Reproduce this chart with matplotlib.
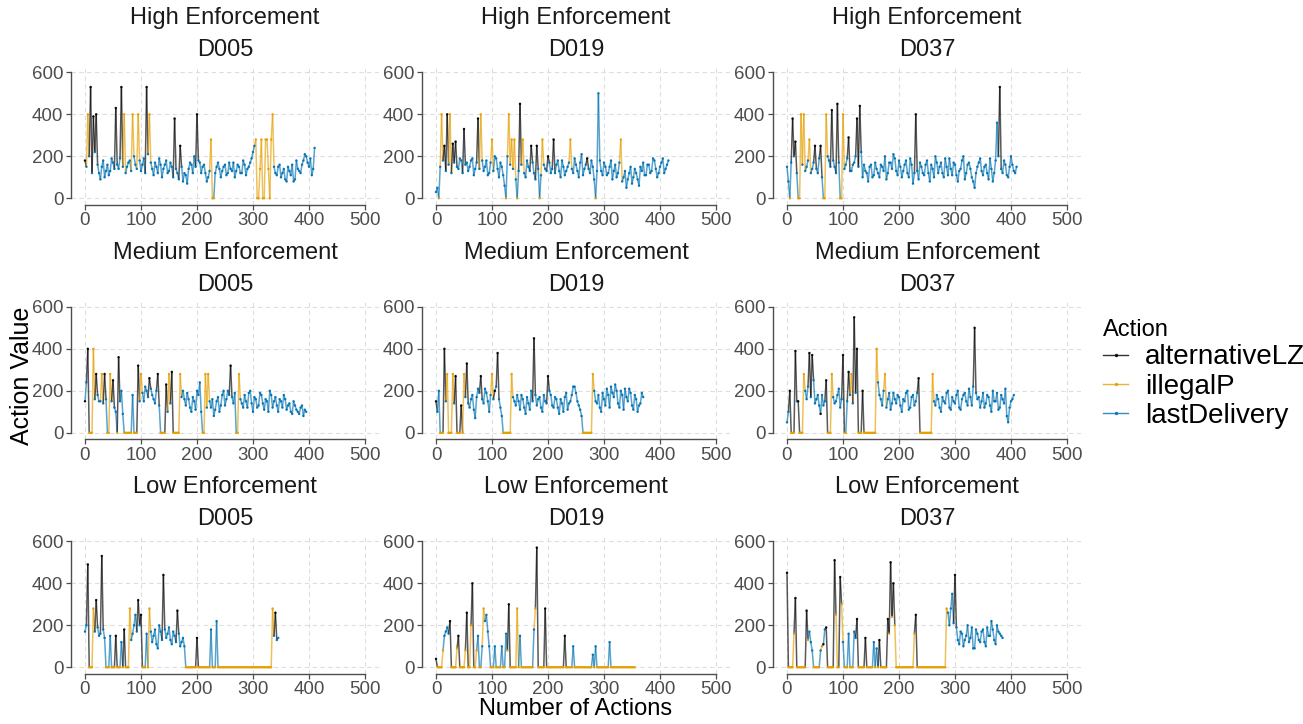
import numpy as np
import matplotlib
matplotlib.use("Agg")
import matplotlib.pyplot as plt
from matplotlib.collections import LineCollection
from matplotlib.lines import Line2D

plt.rcParams['font.family'] = ['Liberation Sans', 'DejaVu Sans']

# ---------------- data ----------------
levels = ["High Enforcement", "Medium Enforcement", "Low Enforcement"]
drivers = ["D005", "D019", "D037"]
action_names = {"B": "alternativeLZ", "O": "illegalP", "L": "lastDelivery"}
action_colors = {"B": "#000000", "O": "#E69F00", "L": "#0072B2"}
STEP = 5          # actions between the main sampled points
SCALE = 10        # values are stored in tens
# *_val / *_act : values at actions 0, 5, 10, ...
# *_mid / *_mact: values read between them (actions 2.5, 7.5, ...)

hd005_val = [18,40,53,39,40,12,15,10,16,13, 17,43,14,53,40,15,18,40,16,40,
             13,19,53,40,14,17,12,16,14,18, 13,15,38,12,25,8,11,14,16,20,
             40,17,15,12,10,28,0,15,14,13, 16,12,14,17,13,15,12,16,14,17,
             22,28,0,28,0,28,0,40,12,15, 10,14,8,13,16,9,14,12,18,20,
             15,11,24]
hd005_act = ("BOBBBLLLLL" "LBLBOLLOLO" "LLBOLLLLLL" "LLBLBLLLLL" "BLLLLOOLLL"
             "LLLLLLLLLL" "LOOOOOOOLL" "LLLLLLLLLL" "LLL")
hd005_mid = [15,20,12,22,16,9,18,13,11,19, 14,16,19,15,12,17,13,20,14,18,
             16,12,21,17,11,15,19,10,16,12, 17,10,14,9,15,12,7,17,12,15,
             18,12,16,8,13,0,12,17,10,15, 11,17,13,10,16,12,18,11,15,19,
             25,0,14,0,28,14,28,15,11,16, 12,9,15,11,8,18,13,16,21,17,
             19,14]
hd005_mact = ("LLLLLLLLLL" "LLLLLLLLLL" "LLLLLLLLLL" "LLLLLLLLLL" "LLLLLOLLLL"
              "LLLLLLLLLL" "LOOOOOOLLL" "LLLLLLLLLL" "LL")

hd019_val = [3,0,40,25,40,40,26,27,14,18, 33,17,15,19,14,38,40,13,18,12,
             28,20,14,17,11,0,40,28,28,0, 45,28,10,15,25,12,25,0,28,14,
             20,12,28,16,13,18,11,15,28,12, 16,10,21,14,19,12,15,0,50,13,
             17,11,15,9,16,12,28,10,5,12, 7,14,9,15,17,11,16,13,18,10,
             15,19,14,18]
hd019_act = ("LOOBBOBBLL" "BLLLLBOLLL" "OLLLLOOOOO" "BOLLBLBOOL" "BLBLLLLLOL"
             "LLLLBLLOLL" "LLLLLLOLLL" "LLLLLLLLLL" "LLLL")
hd019_mid = [5,15,18,13,16,12,17,15,19,12, 16,13,18,11,17,14,18,15,11,17,
             13,19,10,15,6,20,16,14,9,13, 16,12,18,13,17,9,14,11,16,13,
             17,14,12,18,10,15,13,17,14,19, 13,17,11,16,14,18,9,13,18,11,
             15,12,18,13,10,17,8,13,9,15, 10,12,6,13,11,16,12,19,14,12,
             17,12,16]
hd019_mact = "L" * 83

hd037_val = [15,0,38,27,0,40,40,15,28,14, 25,12,25,0,40,18,42,15,45,0,
             40,16,29,13,17,38,44,10,13,8, 16,11,14,10,15,20,12,17,21,13,
             18,10,16,12,19,7,40,9,15,11, 18,8,14,20,12,17,10,15,19,11,
             16,8,14,20,12,17,10,5,15,19, 11,16,9,14,12,36,53,12,16,10,
             20,13,15]
hd037_act = ("LOBBOOOLOL" "BLBOOLBLBO" "OLBLLBBLLL" "LLLLLLLLLL" "LLLLLLBLLL"
             "LLLLLLLLLL" "LLLLLLLLLL" "LLLLLLBLLL" "LLL")
hd037_mid = [8,17,20,12,0,16,13,18,12,17, 14,19,10,0,20,15,18,12,17,0,
             14,19,13,16,20,15,22,16,12,15, 10,17,12,16,13,9,17,14,19,11,
             15,13,18,10,16,12,13,17,12,16, 12,16,10,17,15,12,19,11,14,17,
             11,13,18,9,16,14,8,12,17,13, 15,12,19,8,18,20,14,18,11,15,
             16,12]
hd037_mact = "LLLLOLLLLL" "LLLOLLLLLO" + "L" * 62

md005_val = [15,40,0,40,28,15,28,28,0,28, 25,10,36,20,0,0,0,18,0,32,
             28,15,20,26,18,14,28,0,0,23, 28,29,0,0,28,20,13,16,10,15,
             20,24,0,28,28,12,8,15,10,18, 13,20,32,14,0,28,14,18,12,20,
             10,16,13,18,11,15,20,12,17,10, 15,18,11,14,9,13,10,12,8,10]
md005_act = ("BBOOBLOBOO" "BLBLOOOLOB" "OLLBLLBOOB" "OBOOOLLLLL" "LLOOOLLLLL"
             "LLBLOOLLLL" "LLLLLLLLLL" "LLLLLLLLLL")
md005_mid = [24,0,0,16,18,15,14,16,0,15, 12,0,15,9,0,0,0,0,0,15,
             19,22,17,21,16,20,13,0,0,10, 14,0,0,0,17,16,19,12,17,11,
             18,10,0,12,15,16,11,17,13,20, 16,18,17,19,0,16,12,15,19,14,
             17,12,19,14,16,10,18,15,13,16, 12,16,13,10,15,11,9,13,11]
md005_mact = ("LOOLLLLLOL" "LOLLOOOOOL" "LLLLLLLOOL" "LOOOLLLLLL" "LLOLLLLLLL"
              "LLLLOLLLLL" + "L" * 19)

md019_val = [15,20,0,40,28,0,28,27,0,13, 28,33,12,18,7,21,27,14,19,10,
             28,20,38,12,0,0,0,28,15,18, 11,16,9,14,20,45,13,17,10,15,
             27,18,12,16,9,14,17,11,15,22, 19,13,8,0,0,0,28,15,18,10,
             16,21,12,19,23,14,20,11,17,21, 13,18,10,14,17]
md019_act = ("BLOBOOOBOB" "OBLLLLBLLL" "OBBLOOOOLL" "LLLLLBLLLL" "BLLLLLLLLL"
             "LLLOOOOLLL" "LLLLLLLLLL" "LLLLL")
md019_mid = [10,0,0,15,0,0,14,0,0,0, 17,14,16,11,17,19,16,21,15,18,
             16,22,16,8,0,0,0,17,13,15, 18,12,17,11,15,18,16,12,18,14,
             20,13,17,12,16,10,19,14,18,22, 15,11,0,0,0,0,20,14,12,19,
             13,18,22,17,20,12,18,21,15,19, 11,16,13,19]
md019_mact = ("LOOLOOLOOO" "LLLLLLLLLL" "LLLLOOOLLL" + "L" * 20 +
              "LLOOOOLLLL" + "L" * 14)

md037_val = [5,20,0,39,15,0,28,16,38,37, 14,18,9,13,25,0,28,14,18,12,
             37,0,29,28,55,40,0,20,0,0, 0,0,40,18,13,28,16,11,19,14,
             17,10,15,20,12,18,15,26,0,0, 0,0,28,13,16,10,15,19,12,17,
             14,20,11,18,15,21,13,50,16,12, 19,14,17,10,15,19,12,16,21,5,
             15,18]
md037_act = ("LBOBBOOLBB" "LLBLBOOLLL" "BOBOBBOBOO" "OOOLLOLLLL" "LLLLLLLBOO"
             "OOOLLLLLLL" "LLLLLLLBLL" "LLLLLLLLLL" "LL")
md037_mid = [10,0,0,15,0,0,20,22,17,25, 16,13,18,15,0,0,17,15,21,16,
             0,15,18,14,19,0,0,0,0,0, 0,0,24,16,20,12,19,14,16,18,
             13,16,19,11,17,13,19,0,0,0, 0,0,15,18,12,17,14,20,11,15,
             18,12,16,19,13,17,22,19,17,15, 12,18,13,20,15,11,18,14,8,12,
             16]
md037_mact = ("LOOLOOLLLL" "LLLLOOLLLL" "OLLLLOOOOO" "OOLLLLLLLL" "LLLLLLLOOO"
              "OOLLLLLLLL" + "L" * 21)

ld005_val = [17,49,0,28,32,15,53,14,0,15, 0,15,0,12,18,0,28,16,25,32,
             25,0,16,28,12,18,9,17,44,14, 19,11,15,27,10,14,0,0,0,0,
             14,0,0,0,0,18,0,22,0,0, 0,0,0,0,0,0,0,0,0,0,
             0,0,0,0,0,0,0,28,26,14]
ld005_act = ("LBOOBLBLOL" "OBOLBOOLLB" "BOLOLLLLBL" "LLLBLLOOOO" "BOOOOLOLOO"
             "OOOOOOOOOO" "OOOOOOOOBL")
ld005_mid = [20,0,0,17,19,16,18,0,0,0, 0,0,0,0,0,0,13,20,17,20,
             0,0,0,17,15,11,20,13,18,16, 13,17,12,16,12,10,0,0,0,0,
             0,0,0,0,0,0,0,0,0,0, 0,0,0,0,0,0,0,0,0,0,
             0,0,0,0,0,0,0,15,13]
ld005_mact = ("LOOLLLLOOO" "OOOOOOLLLL" "OOOLLLLLLL" "LLLLLLOOOO" + "O" * 20 +
              "OOOOOOOLL")

ld019_val = [4,0,0,15,19,22,0,0,15,0, 0,26,0,40,0,15,0,28,25,10,
             0,10,0,0,0,16,30,0,0,28, 15,0,0,0,0,18,57,0,0,28,
             0,0,0,0,0,0,15,0,0,10, 0,0,0,0,0,0,6,10,0,0,
             0,0,12,0,0,0,0,0,0,0, 0,0]
ld019_act = ("BOOLLBOOBO" "OBOBOLOOLL" "OLOOOLBOOO" "LOOOOLBOOB" "OOOOOOBOOL"
             "OOOOOOLLOO" "OOLOOOOOOO" "OO")
ld019_mid = [0,0,8,17,16,0,0,9,0,0, 8,0,20,0,8,0,10,22,17,0,
             0,0,0,10,0,8,0,0,0,0, 0,0,0,0,0,28,0,0,0,0,
             0,0,0,0,0,0,0,0,0,0, 0,0,0,0,0,0,0,0,0,0,
             0,0,0,0,0,0,0,0,0,0, 0]
ld019_mact = "OOOLLOOOOO" "OOOOOOLLLO" "OOOLOOOOOO" + "O" * 41

ld037_val = [45,0,0,33,0,0,0,27,17,8, 0,0,8,11,19,0,0,51,0,43,
             12,0,16,0,17,23,0,0,14,0, 0,12,9,13,0,0,23,50,40,0,
             0,0,0,0,0,0,25,0,0,0, 0,0,0,0,0,0,0,28,20,35,
             44,13,17,10,15,12,19,9,16,12, 18,10,15,22,13,20,16,14]
ld037_act = ("BOOBOOOBLL" "OOLBBOOBOB" "LOLOLBOOBO" "OLLBOOBBBO" "OOOOOOBOOO"
             "OOOOOOOOLL" "BLLLLLLLLL" "LLLLLLLL")
ld037_mid = [0,0,16,0,0,0,0,13,12,0, 0,0,10,18,0,0,0,25,0,30,
             0,0,0,0,14,0,0,0,0,0, 0,0,0,0,0,0,16,24,20,0,
             0,0,0,0,0,16,0,0,0,0, 0,0,0,0,0,0,0,26,28,21,
             19,11,16,13,20,14,9,18,13,17, 12,19,15,18,11,17,15]
ld037_mact = ("OOOOOOOOLO" "OOOLOOOOOO" "OOOOLOOOOO" + "O" * 27 + "LLL" +
              "L" * 17)

panels = [
    [(hd005_val, hd005_act, hd005_mid, hd005_mact),
     (hd019_val, hd019_act, hd019_mid, hd019_mact),
     (hd037_val, hd037_act, hd037_mid, hd037_mact)],
    [(md005_val, md005_act, md005_mid, md005_mact),
     (md019_val, md019_act, md019_mid, md019_mact),
     (md037_val, md037_act, md037_mid, md037_mact)],
    [(ld005_val, ld005_act, ld005_mid, ld005_mact),
     (ld019_val, ld019_act, ld019_mid, ld019_mact),
     (ld037_val, ld037_act, ld037_mid, ld037_mact)]]

xticks = [0, 100, 200, 300, 400, 500]
yticks = [0, 200, 400, 600]

# ---------------- layout ----------------
W, H = 1303, 724
fig = plt.figure(figsize=(W / 100, H / 100), dpi=100)
col_left = [71, 422, 773]
row_top = [66, 300.5, 535]
pw, ph = 308, 138.6
GRID = "#dedede"
AX = "#4d4d4d"


def merge(vals, acts, mids, macts):
    n = min(len(vals), len(acts))
    m = min(len(mids), len(macts), n - 1)
    xs, vs, ac = [], [], []
    for i in range(n):
        xs.append(i * STEP); vs.append(vals[i] * SCALE); ac.append(acts[i])
        if i < m:
            xs.append(i * STEP + STEP / 2); vs.append(mids[i] * SCALE); ac.append(macts[i])
    return np.array(xs, float), np.array(vs, float), ac


for r in range(3):
    for c in range(3):
        ax = fig.add_axes([col_left[c] / W, 1 - (row_top[r] + ph) / H, pw / W, ph / H])
        x, v, a = merge(*panels[r][c])
        n = len(x)
        segs, cols = [], []
        for i in range(n - 1):
            j = i if v[i] > v[i + 1] else i + 1
            segs.append([(x[i], v[i]), (x[i + 1], v[i + 1])])
            cols.append(action_colors[a[j]])
        lc = LineCollection(segs, colors=cols, linewidths=1.1, alpha=0.65, zorder=3)
        ax.add_collection(lc)
        ax.scatter(x, v, s=3, c=[action_colors[k] for k in a], linewidths=0,
                   alpha=0.95, zorder=4)

        ax.set_xlim(-25, 525)
        ax.set_ylim(-30, 630)
        ax.set_xticks(xticks)
        ax.set_yticks(yticks)
        ax.grid(True, color=GRID, linestyle=(0, (4, 3)), linewidth=0.8, zorder=0)
        ax.set_axisbelow(True)
        for s in ("top", "right"):
            ax.spines[s].set_visible(False)
        ax.spines["left"].set_bounds(0, 600)
        ax.spines["bottom"].set_bounds(0, 500)
        for s in ("left", "bottom"):
            ax.spines[s].set_color(AX)
            ax.spines[s].set_linewidth(1.0)
        ax.tick_params(axis="both", direction="out", length=3.5, width=0.9,
                       color=AX, labelsize=13.5, labelcolor=AX, pad=2)
        ax.annotate(levels[r], xy=(0.5, 1), xycoords="axes fraction",
                    xytext=(0, 48), textcoords="offset pixels",
                    ha="center", va="center", fontsize=17, color="#1a1a1a")
        ax.annotate(drivers[c], xy=(0.5, 1), xycoords="axes fraction",
                    xytext=(0, 16), textcoords="offset pixels",
                    ha="center", va="center", fontsize=17, color="#1a1a1a")

fig.text(22 / W, 1 - 376 / H, "Action Value", rotation=90, ha="center",
         va="center", fontsize=18)
fig.text(576 / W, 1 - 709 / H, "Number of Actions", ha="center", va="center",
         fontsize=17)

handles = [Line2D([0], [0], color=action_colors[k], lw=1.0, marker=".",
                  markersize=3, alpha=0.8) for k in ("B", "O", "L")]
labels = [action_names[k] for k in ("B", "O", "L")]
leg = fig.legend(handles, labels, title="Action", loc="upper left",
                 bbox_to_anchor=(1092 / W, 1 - 308 / H), frameon=False,
                 fontsize=20, title_fontsize=17, handlelength=0.9,
                 handletextpad=0.6, labelspacing=0.12, alignment="left",
                 borderaxespad=0)

fig.savefig("out.png", dpi=100)
